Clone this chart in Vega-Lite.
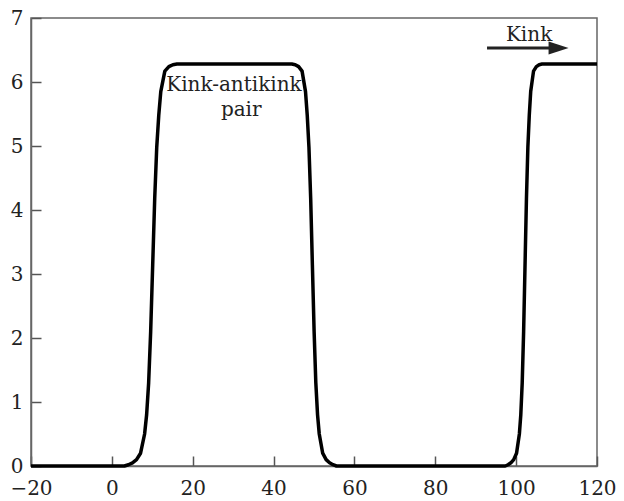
{
  "$schema": "https://vega.github.io/schema/vega-lite/v6.json",
  "width": 566,
  "height": 448,
  "autosize": {"type": "none"},
  "padding": {"left": 31, "top": 18, "right": 27, "bottom": 35},
  "background": "white",
  "config": {
    "view": {"stroke": "#666", "strokeWidth": 1.5},
    "axis": {
      "grid": false,
      "domainColor": "#666",
      "domainWidth": 1.5,
      "labelFont": "DejaVu Serif",
      "labelFontSize": 20,
      "labelColor": "#222",
      "labelFlush": false,
      "labelOverlap": false,
      "format": "d",
      "title": null
    }
  },
  "datasets": {
    "curve": [
      {"x": -20, "y": 0}, {"x": 0, "y": 0}, {"x": 3.1, "y": 0},
      {"x": 4.1, "y": 0.02}, {"x": 5.1, "y": 0.05}, {"x": 6.1, "y": 0.1},
      {"x": 7.1, "y": 0.2}, {"x": 8.1, "y": 0.5}, {"x": 8.6, "y": 0.8},
      {"x": 9.1, "y": 1.3}, {"x": 9.6, "y": 2.1}, {"x": 10.1, "y": 3.14},
      {"x": 10.6, "y": 4.18}, {"x": 11.1, "y": 4.98}, {"x": 11.6, "y": 5.48},
      {"x": 12.1, "y": 5.85}, {"x": 13.1, "y": 6.17}, {"x": 14.1, "y": 6.24},
      {"x": 15.1, "y": 6.27}, {"x": 16.1, "y": 6.28}, {"x": 30, "y": 6.28},
      {"x": 43.65, "y": 6.28}, {"x": 44.5, "y": 6.28}, {"x": 45.35, "y": 6.27},
      {"x": 46.2, "y": 6.24}, {"x": 47.05, "y": 6.17}, {"x": 47.9, "y": 5.85},
      {"x": 48.33, "y": 5.48}, {"x": 48.75, "y": 4.98}, {"x": 49.18, "y": 4.18},
      {"x": 49.6, "y": 3.14}, {"x": 50.03, "y": 2.1}, {"x": 50.45, "y": 1.3},
      {"x": 50.88, "y": 0.8}, {"x": 51.3, "y": 0.5}, {"x": 52.15, "y": 0.2},
      {"x": 53.0, "y": 0.1}, {"x": 53.85, "y": 0.05}, {"x": 54.7, "y": 0.02},
      {"x": 55.55, "y": 0}, {"x": 80, "y": 0}, {"x": 97.3, "y": 0},
      {"x": 98.0, "y": 0.02}, {"x": 98.7, "y": 0.05}, {"x": 99.4, "y": 0.1},
      {"x": 100.1, "y": 0.2}, {"x": 100.8, "y": 0.5}, {"x": 101.15, "y": 0.8},
      {"x": 101.5, "y": 1.3}, {"x": 101.85, "y": 2.1}, {"x": 102.2, "y": 3.14},
      {"x": 102.55, "y": 4.18}, {"x": 102.9, "y": 4.98}, {"x": 103.25, "y": 5.48},
      {"x": 103.6, "y": 5.85}, {"x": 104.3, "y": 6.17}, {"x": 105.0, "y": 6.24},
      {"x": 105.7, "y": 6.27}, {"x": 106.4, "y": 6.28}, {"x": 120, "y": 6.28}
    ],
    "labels": [
      {"x": 30.2, "y": 5.95, "text": "Kink-antikink"},
      {"x": 32.0, "y": 5.57, "text": "pair"},
      {"x": 103.2, "y": 6.73, "text": "Kink"}
    ],
    "arrow": [
      {"x": 92.8, "x2": 110.5, "y": 6.53}
    ]
  },
  "layer": [
    {
      "data": {"name": "curve"},
      "mark": {"type": "line", "color": "black", "strokeWidth": 3.5, "strokeJoin": "round"},
      "encoding": {
        "x": {"field": "x", "type": "quantitative", "scale": {"domain": [-20, 120], "nice": false, "zero": false},
              "axis": {"values": [-20, 0, 20, 40, 60, 80, 100, 120], "labelPadding": 22, "tickSize": -10, "tickColor": "#555", "tickWidth": 1.5}},
        "y": {"field": "y", "type": "quantitative", "scale": {"domain": [0, 7], "nice": false},
              "axis": {"values": [0, 1, 2, 3, 4, 5, 6, 7], "labelPadding": 18, "tickSize": -10, "tickColor": "#555", "tickWidth": 1.5}}
      }
    },
    {
      "data": {"name": "arrow"},
      "mark": {"type": "rule", "color": "#222", "strokeWidth": 3},
      "encoding": {
        "x": {"field": "x", "type": "quantitative"},
        "x2": {"field": "x2"},
        "y": {"field": "y", "type": "quantitative"}
      }
    },
    {
      "data": {"name": "arrow"},
      "mark": {"type": "point", "shape": "M-1,-0.65L1,0L-1,0.65Z", "filled": true, "color": "#222", "opacity": 1, "size": 400},
      "encoding": {
        "x": {"field": "x2", "type": "quantitative"},
        "y": {"field": "y", "type": "quantitative"}
      }
    },
    {
      "data": {"name": "labels"},
      "mark": {"type": "text", "font": "DejaVu Serif", "fontSize": 20, "color": "#222", "align": "center", "baseline": "middle"},
      "encoding": {
        "x": {"field": "x", "type": "quantitative"},
        "y": {"field": "y", "type": "quantitative"},
        "text": {"field": "text"}
      }
    }
  ]
}
